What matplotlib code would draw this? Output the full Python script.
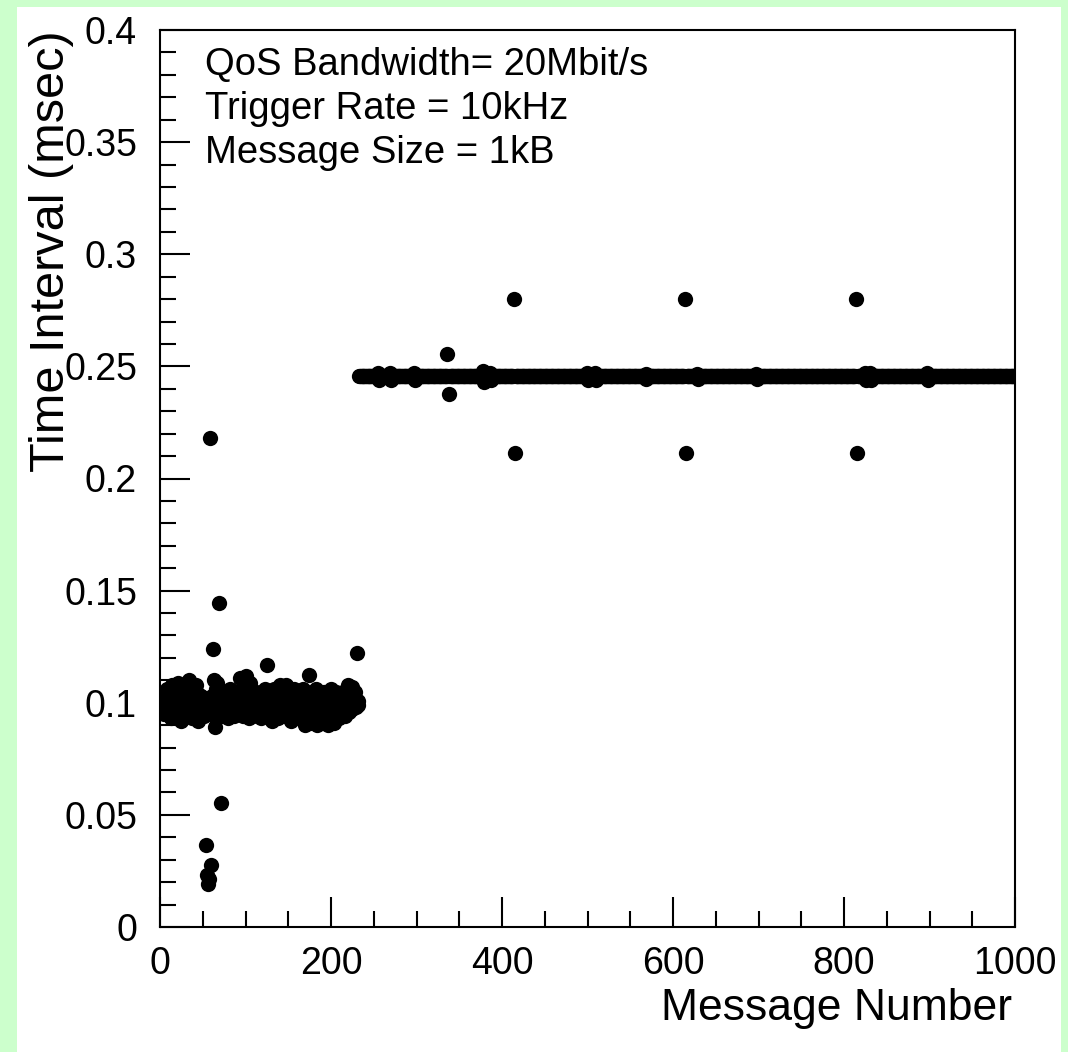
import numpy as np
from matplotlib import pyplot as plt
from matplotlib.patches import Rectangle
from matplotlib.ticker import MultipleLocator

plt.rcParams['font.family'] = ['Liberation Sans', 'DejaVu Sans']

# time interval (msec) for messages 0..232
early_intervals = [
    0.099, 0.102, 0.097, 0.104, 0.100, 0.095, 0.103, 0.098, 0.106, 0.101,
    0.096, 0.104, 0.100, 0.093, 0.108, 0.099, 0.102, 0.094, 0.105, 0.100,
    0.097, 0.109, 0.101, 0.095, 0.103, 0.092, 0.106, 0.099, 0.104, 0.097,
    0.101, 0.094, 0.107, 0.100, 0.110, 0.096, 0.103, 0.093, 0.105, 0.099,
    0.102, 0.095, 0.108, 0.098, 0.104, 0.092, 0.101, 0.097, 0.103, 0.096,
    0.100, 0.094, 0.102, 0.098, 0.0366, 0.023, 0.019, 0.0215, 0.218, 0.101,
    0.0276, 0.103, 0.124, 0.110, 0.089, 0.106, 0.093, 0.109, 0.096, 0.1445,
    0.099, 0.0553, 0.094, 0.104, 0.098, 0.101, 0.095, 0.105, 0.097, 0.102,
    0.093, 0.100, 0.106, 0.096, 0.103, 0.098, 0.094, 0.105, 0.099, 0.101,
    0.095, 0.104, 0.098, 0.102, 0.111, 0.097, 0.103, 0.094, 0.108, 0.100,
    0.096, 0.112, 0.099, 0.105, 0.093, 0.109, 0.101, 0.097, 0.104, 0.095,
    0.102, 0.098, 0.105, 0.094, 0.100, 0.103, 0.096, 0.101, 0.093, 0.104,
    0.099, 0.102, 0.095, 0.106, 0.098, 0.1168, 0.101, 0.094, 0.104, 0.097,
    0.103, 0.092, 0.100, 0.106, 0.096, 0.102, 0.099, 0.105, 0.093, 0.101,
    0.108, 0.097, 0.103, 0.095, 0.107, 0.100, 0.094, 0.108, 0.098, 0.102,
    0.096, 0.105, 0.099, 0.092, 0.104, 0.101, 0.097, 0.106, 0.094, 0.100,
    0.103, 0.096, 0.105, 0.099, 0.093, 0.102, 0.098, 0.106, 0.095, 0.101,
    0.090, 0.104, 0.097, 0.100, 0.1124, 0.091, 0.103, 0.096, 0.105, 0.099,
    0.092, 0.102, 0.097, 0.106, 0.090, 0.100, 0.104, 0.095, 0.101, 0.091,
    0.103, 0.098, 0.105, 0.093, 0.100, 0.096, 0.104, 0.090, 0.102, 0.097,
    0.106, 0.094, 0.101, 0.091, 0.103, 0.098, 0.105, 0.095, 0.100, 0.093,
    0.104, 0.097, 0.102, 0.096, 0.105, 0.099, 0.094, 0.103, 0.098, 0.101,
    0.108, 0.096, 0.103, 0.099, 0.107, 0.097, 0.102, 0.100, 0.105, 0.098,
    0.1222, 0.101, 0.099,
]

# after message 233 the interval sits on one level, with a few exceptions
n_messages = 1000
late_level = 0.2455
late_exception_msgs = [
    255, 256, 269, 270, 297, 298, 336, 338, 378, 379, 386, 387,
    414, 415, 499, 500, 509, 510, 568, 569, 614, 615, 628, 629,
    697, 698, 814, 815, 825, 826, 830, 831, 897, 898,
]
late_exception_vals = [
    0.2472, 0.2438, 0.2470, 0.2440, 0.2472, 0.2438, 0.2555, 0.2377, 0.2478, 0.2432, 0.2470, 0.2440,
    0.2800, 0.2114, 0.2470, 0.2440, 0.2470, 0.2440, 0.2468, 0.2442, 0.2800, 0.2114, 0.2468, 0.2442,
    0.2468, 0.2442, 0.2800, 0.2114, 0.2470, 0.2440, 0.2470, 0.2440, 0.2472, 0.2438,
]

info_lines = ["QoS Bandwidth= 20Mbit/s", "Trigger Rate = 10kHz", "Message Size = 1kB"]
x_ticks = [0, 200, 400, 600, 800, 1000]
x_tick_labels = ["0", "200", "400", "600", "800", "1000"]
y_ticks = [0, 0.05, 0.1, 0.15, 0.2, 0.25, 0.3, 0.35, 0.4]
y_tick_labels = ["0", "0.05", "0.1", "0.15", "0.2", "0.25", "0.3", "0.35", "0.4"]

intervals = np.full(n_messages, late_level)
intervals[:len(early_intervals)] = early_intervals
intervals[late_exception_msgs] = late_exception_vals
messages = np.arange(n_messages)

W, H = 1068, 1052
fig = plt.figure(figsize=(W / 100, H / 100), dpi=100)
fig.patch.set_facecolor('#ccffcc')
fig.patches.append(Rectangle((17 / W, 0), 1044 / W, 1045 / H, transform=fig.transFigure,
                             facecolor='white', edgecolor='none', zorder=-1))

ax = fig.add_axes([160 / W, 1 - 927 / H, 855 / W, 897 / H])
ax.plot(messages, intervals, 'o', color='black', markersize=11, markeredgewidth=0)

ax.set_xlim(0, 1000)
ax.set_ylim(0, 0.4)
ax.set_xticks(x_ticks, x_tick_labels)
ax.set_yticks(y_ticks, y_tick_labels)
ax.xaxis.set_minor_locator(MultipleLocator(50))
ax.yaxis.set_minor_locator(MultipleLocator(0.01))
ax.tick_params(which='both', direction='in', top=False, right=False, width=1.5, labelsize=27)
ax.tick_params(which='major', length=21.5)
ax.tick_params(which='minor', length=11.5)
ax.tick_params(axis='x', pad=14)
ax.tick_params(axis='y', pad=16.5)
for s in ax.spines.values():
    s.set_linewidth(1.5)

for i, line in enumerate(info_lines):
    fig.text(205 / W, 1 - (75 + 44 * i) / H, line, fontsize=27.5, va='baseline', ha='left')

fig.text(1012 / W, 1 - 1020 / H, "Message Number", fontsize=32, ha='right', va='baseline')
fig.text(52 / W, 1 - 30 / H, "Time Interval (msec)", fontsize=35, rotation=90,
         ha='center', va='top')

fig.savefig('out.png', dpi=100)
